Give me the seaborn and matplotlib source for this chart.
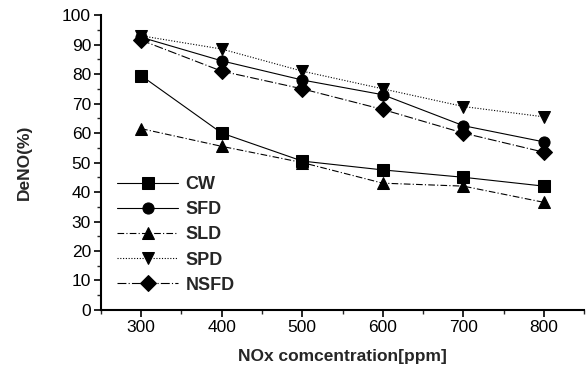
import pandas as pd
import matplotlib.pyplot as plt
import seaborn as sns
from matplotlib.ticker import MultipleLocator

# data
nox = [300, 400, 500, 600, 700, 800]
cw = [79.5, 60.0, 50.5, 47.5, 45.0, 42.0]
sfd = [92.5, 84.5, 78.0, 73.0, 62.5, 57.0]
sld = [61.5, 55.5, 50.0, 43.0, 42.0, 36.5]
spd = [93.0, 88.5, 81.0, 75.0, 69.0, 65.5]
nsfd = [91.5, 81.0, 75.0, 68.0, 60.0, 53.5]

names = ['CW', 'SFD', 'SLD', 'SPD', 'NSFD']
series = [cw, sfd, sld, spd, nsfd]

df = pd.concat(
    [pd.DataFrame({'nox': nox, 'deno': vals, 'sample': name}) for name, vals in zip(names, series)],
    ignore_index=True)

sns.set_theme(style='ticks')
plt.rcParams['font.family'] = ['Liberation Sans', 'DejaVu Sans']

fig = plt.figure(figsize=(5.86, 3.69), dpi=100)
ax = fig.add_axes([0.172, 0.16, 0.825, 0.799])

markers = {'CW': 's', 'SFD': 'o', 'SLD': '^', 'SPD': 'v', 'NSFD': 'D'}
dashes = {'CW': '', 'SFD': '', 'SLD': (6, 2, 1, 2), 'SPD': (1, 1.5), 'NSFD': (8, 2, 1, 2)}
palette = {n: 'black' for n in names}

sns.lineplot(data=df, x='nox', y='deno', hue='sample', style='sample',
             hue_order=names, style_order=names, palette=palette,
             markers=markers, dashes=dashes, markersize=8, linewidth=0.8,
             markeredgecolor='black', ax=ax)

ax.set_xlim(250, 850)
ax.set_ylim(0, 100)
ax.xaxis.set_major_locator(MultipleLocator(100))
ax.xaxis.set_minor_locator(MultipleLocator(50))
ax.yaxis.set_major_locator(MultipleLocator(10))
ax.yaxis.set_minor_locator(MultipleLocator(5))
ax.tick_params(which='major', direction='out', length=5, width=1.2, labelsize=12.5,
               colors='black', pad=2)
ax.tick_params(which='minor', direction='out', length=3, width=1)
for side in ['top', 'right']:
    ax.spines[side].set_visible(False)
for side in ['left', 'bottom']:
    ax.spines[side].set_linewidth(1.5)
    ax.spines[side].set_color('black')

ax.set_xlabel('NOx comcentration[ppm]', fontsize=12.5, fontweight='bold', labelpad=10)
ax.set_ylabel('DeNO(%)', fontsize=12.5, fontweight='bold', labelpad=22)

leg = ax.legend(loc='lower left', bbox_to_anchor=(0.0, 0.0), frameon=False,
                fontsize=13, handlelength=3.4, labelspacing=0.45, handletextpad=0.4)
for t in leg.get_texts():
    t.set_fontweight('bold')

plt.savefig('out.png', dpi=100)
